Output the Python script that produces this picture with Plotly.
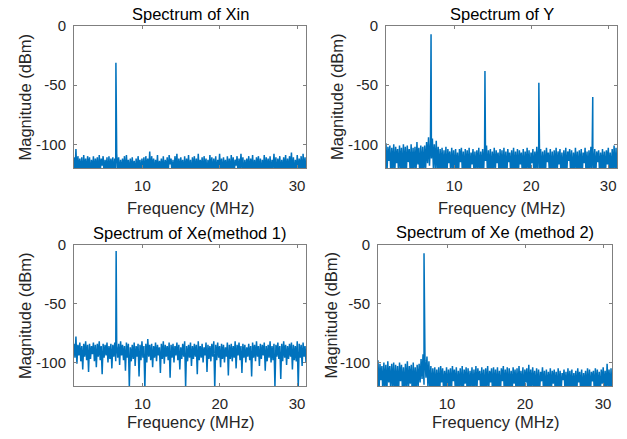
import numpy as np
import plotly.graph_objects as go

# ---------------- data ----------------
F_MIN, F_MAX = 1.15, 31.15          # MHz, visible frequency span
x_ticks = [10, 20, 30]
y_ticks = [-100, -50, 0]
y_tick_text = ["-100", "-50", "0"]

titles = ["Spectrum of Xin", "Spectrum of Y",
          "Spectrum of Xe(method 1)", "Spectrum of Xe (method 2)"]

# tones: frequency (MHz) and level (dBm)
xin_tone_f = [6.57]
xin_tone_db = [-31]
y_tone_f = [7.0, 14.0, 21.0, 28.0]
y_tone_db = [-7, -38, -48, -60]
xe1_tone_f = [6.6]
xe1_tone_db = [-5]
xe2_tone_f = [7.05]
xe2_tone_db = [-7]

# noise floor: local maxima / local minima (dBm), left to right
xin_peaks = [
    -111, -104, -110, -112, -111, -109, -112, -110, -111, -113,
    -110, -112, -111, -109, -112, -110, -113, -111, -110, -112,
    -111, -112, -108, -111, -113, -112, -110, -109, -113, -112,
    -111, -114, -112, -110, -113, -112, -111, -110, -112, -106,
    -110, -112, -113, -109, -114, -112, -110, -113, -111, -109,
    -112, -113, -110, -108, -112, -111, -113, -110, -112, -109,
    -113, -111, -110, -112, -108, -113, -111, -110, -112, -113,
    -109, -111, -112, -110, -113, -108, -112, -111, -113, -110,
    -112, -109, -111, -113, -110, -112, -108, -111, -113, -112,
    -110, -112, -109, -113, -111, -110, -112, -113, -109, -111,
    -112, -110, -113, -108, -111, -112, -110, -113, -111, -109,
    -112, -110, -107, -111, -113, -109, -112, -110, -108, -111]
xin_troughs = [
    -124, -127, -122, -125, -129, -123, -126, -121, -128, -124,
    -125, -122, -127, -124, -118, -126, -123, -128, -125, -122,
    -126, -124, -121, -127, -125, -123, -128, -122, -126, -124,
    -123, -127, -125, -121, -126, -124, -128, -122, -125, -127,
    -122, -126, -124, -128, -121, -125, -127, -123, -126, -117,
    -125, -128, -122, -126, -124, -121, -127, -125, -123, -126,
    -128, -122, -125, -127, -124, -121, -126, -123, -128, -125,
    -122, -126, -124, -127, -121, -125, -128, -123, -126, -124,
    -127, -122, -125, -118, -126, -124, -121, -128, -125, -123,
    -126, -122, -127, -124, -121, -125, -128, -123, -126, -122,
    -125, -127, -121, -124, -128, -122, -126, -125, -123, -127,
    -124, -121, -126, -128, -123, -125, -122, -127, -124, -126]

y_peaks = [
    -99, -102, -101, -103, -100, -102, -104, -101, -103, -100,
    -102, -101, -104, -100, -103, -102, -98, -103, -101, -102,
    -101, -98, -94, -99, -95, -100, -97, -102, -104, -103,
    -105, -102, -104, -106, -103, -105, -104, -107, -104, -103,
    -106, -104, -105, -103, -107, -104, -106, -105, -103, -106,
    -104, -102, -101, -105, -104, -106, -103, -105, -107, -104,
    -105, -103, -106, -104, -107, -105, -103, -106, -104, -105,
    -107, -104, -106, -103, -105, -107, -104, -106, -102, -101,
    -104, -106, -105, -103, -107, -104, -106, -105, -103, -106,
    -104, -107, -105, -103, -106, -104, -105, -107, -103, -106,
    -105, -104, -107, -103, -106, -105, -102, -103, -104, -106,
    -105, -107, -104, -106, -105, -103, -107, -104, -101, -103]
y_troughs = [
    -124, -114, -126, -122, -127, -116, -125, -121, -128, -123,
    -126, -115, -124, -127, -122, -125, -117, -128, -123, -126,
    -121, -116, -118, -112, -120, -122, -125, -127, -123, -126,
    -124, -128, -116, -125, -122, -127, -123, -126, -115, -124,
    -127, -122, -125, -128, -117, -124, -126, -121, -127, -125,
    -123, -114, -126, -124, -128, -122, -125, -116, -127, -123,
    -126, -124, -128, -115, -125, -122, -127, -124, -126, -117,
    -124, -127, -122, -125, -128, -116, -126, -123, -125, -121,
    -127, -124, -126, -115, -123, -128, -125, -122, -126, -117,
    -125, -128, -123, -126, -114, -124, -127, -122, -125, -126,
    -123, -127, -116, -125, -128, -122, -126, -124, -127, -115,
    -126, -123, -125, -128, -117, -124, -127, -122, -126, -124]

xe1_peaks = [
    -84, -78, -85, -83, -86, -84, -82, -85, -84, -86,
    -83, -85, -84, -82, -86, -84, -85, -83, -86, -84,
    -85, -83, -86, -84, -82, -85, -86, -83, -84, -87,
    -85, -83, -86, -84, -85, -82, -86, -84, -80, -85,
    -84, -86, -83, -85, -87, -84, -82, -85, -86, -83,
    -85, -84, -86, -83, -85, -87, -84, -82, -86, -85,
    -83, -86, -84, -85, -82, -86, -84, -87, -83, -85,
    -86, -84, -82, -85, -83, -86, -84, -85, -87, -83,
    -85, -84, -86, -82, -85, -83, -86, -84, -85, -87,
    -84, -86, -83, -85, -82, -86, -84, -85, -83, -86,
    -85, -82, -86, -84, -85, -83, -86, -84, -82, -85,
    -86, -84, -83, -85, -86, -82, -84, -85, -83, -86]
xe1_troughs = [
    -96, -101, -94, -99, -106, -95, -98, -108, -97, -93,
    -99, -104, -95, -98, -110, -96, -94, -100, -97, -105,
    -95, -99, -96, -102, -94, -98, -107, -96, -121, -99,
    -97, -103, -95, -112, -98, -96, -122, -100, -95, -98,
    -104, -96, -99, -94, -109, -97, -101, -95, -98, -113,
    -96, -100, -94, -98, -106, -97, -95, -121, -99, -96,
    -103, -97, -95, -110, -98, -96, -100, -94, -108, -97,
    -99, -95, -122, -98, -96, -104, -97, -100, -95, -111,
    -97, -99, -96, -105, -94, -98, -109, -96, -100, -95,
    -98, -112, -96, -99, -95, -103, -97, -94, -107, -99,
    -96, -100, -98, -121, -95, -97, -114, -99, -96, -102,
    -97, -95, -106, -98, -99, -122, -96, -103, -95, -100]

xe2_peaks = [
    -98, -101, -103, -100, -102, -99, -103, -101, -100, -102,
    -103, -100, -102, -104, -101, -99, -103, -102, -100, -104,
    -102, -101, -97, -93, -98, -95, -99, -103, -105, -104,
    -106, -104, -103, -105, -107, -104, -106, -105, -103, -106,
    -104, -107, -105, -103, -106, -104, -105, -107, -104, -106,
    -103, -105, -107, -104, -106, -105, -103, -107, -105, -104,
    -106, -104, -107, -105, -103, -106, -104, -105, -107, -104,
    -106, -105, -103, -107, -104, -106, -105, -102, -106, -104,
    -107, -105, -106, -108, -104, -107, -106, -108, -105, -107,
    -106, -108, -105, -107, -109, -106, -108, -105, -107, -106,
    -109, -107, -105, -108, -106, -109, -107, -105, -106, -108,
    -107, -105, -106, -108, -106, -104, -107, -101, -106, -105]
xe2_troughs = [
    -125, -115, -127, -122, -126, -117, -124, -121, -128, -123,
    -126, -116, -124, -127, -122, -125, -118, -128, -123, -126,
    -121, -117, -114, -119, -113, -121, -125, -127, -123, -126,
    -124, -128, -117, -125, -122, -127, -123, -126, -116, -124,
    -127, -122, -125, -128, -118, -124, -126, -121, -127, -125,
    -123, -115, -126, -124, -128, -122, -125, -117, -127, -123,
    -126, -124, -128, -116, -125, -122, -127, -124, -126, -118,
    -124, -127, -122, -125, -128, -117, -126, -123, -125, -121,
    -127, -124, -126, -116, -123, -128, -125, -122, -126, -118,
    -125, -128, -123, -126, -115, -124, -127, -122, -125, -126,
    -123, -127, -117, -125, -128, -122, -126, -124, -127, -116,
    -126, -123, -125, -128, -118, -124, -127, -122, -126, -124]


def spectrum(peaks, troughs, tone_f, tone_db):
    mags = []
    for p, t in zip(peaks, troughs):
        mags += [p, t]
    freq = list(np.linspace(F_MIN, F_MAX, len(mags)))
    for f, db in sorted(zip(tone_f, tone_db)):
        k = int(np.searchsorted(freq, f))
        freq.insert(k, f)
        mags.insert(k, db)
    return freq, mags


panels = [
    (xin_peaks, xin_troughs, xin_tone_f, xin_tone_db),
    (y_peaks, y_troughs, y_tone_f, y_tone_db),
    (xe1_peaks, xe1_troughs, xe1_tone_f, xe1_tone_db),
    (xe2_peaks, xe2_troughs, xe2_tone_f, xe2_tone_db),
]

# ---------------- layout (pixel geometry of the 627x439 figure) ----------------
W, H = 627, 439
# left, right, top, bottom in pixels
boxes = [(74, 306, 26, 168), (386, 617, 26, 168),
         (74, 306, 245, 386), (378, 612, 245, 386)]
title_y = [13.5, 13.5, 233, 232]
xlabel_y = [207.5, 207.5, 422, 422]
ylabel_x = [24.5, 337, 24.5, 330]

LINE = "#0072BD"
FONT = "Liberation Sans, Arial, sans-serif"
TXT = "#262626"
AX = "#7f7f7f"

fig = go.Figure()
annotations = []
for i, (pk, tr, tf, tdb) in enumerate(panels):
    n = i + 1
    sfx = "" if n == 1 else str(n)
    freq, mags = spectrum(pk, tr, tf, tdb)
    fig.add_trace(go.Scatter(x=freq, y=mags, mode="lines",
                             line=dict(color=LINE, width=1.5),
                             xaxis="x" + sfx, yaxis="y" + sfx,
                             showlegend=False, hoverinfo="skip"))
    l, r, t, b = boxes[i]
    common = dict(showline=True, linecolor=AX, linewidth=1, mirror="ticks",
                  ticks="inside", ticklen=3, tickcolor=AX, showgrid=False,
                  zeroline=False, automargin=False,
                  tickfont=dict(family=FONT, size=15, color=TXT))
    fig.layout["xaxis" + sfx] = dict(
        domain=[l / W, r / W], anchor="y" + sfx, range=[F_MIN, F_MAX],
        tickvals=x_ticks, ticklabelstandoff=4, **common)
    fig.layout["yaxis" + sfx] = dict(
        domain=[1 - b / H, 1 - t / H], anchor="x" + sfx, range=[-120, 0],
        tickvals=y_ticks, ticktext=y_tick_text, ticklabelstandoff=4, **common)
    cx = (l + r) / 2 / W
    annotations.append(dict(text=titles[i], x=cx, y=1 - title_y[i] / H,
                            xref="paper", yref="paper", showarrow=False,
                            xanchor="center", yanchor="middle",
                            font=dict(family=FONT, size=16.5, color="#000")))
    annotations.append(dict(text="Frequency (MHz)", x=cx, y=1 - xlabel_y[i] / H,
                            xref="paper", yref="paper", showarrow=False,
                            xanchor="center", yanchor="middle",
                            font=dict(family=FONT, size=16.5, color=TXT)))
    annotations.append(dict(text="Magnitude (dBm)", x=ylabel_x[i] / W,
                            y=1 - (t + b) / 2 / H, textangle=-90,
                            xref="paper", yref="paper", showarrow=False,
                            xanchor="center", yanchor="middle",
                            font=dict(family=FONT, size=16.5, color=TXT)))

fig.update_layout(width=W, height=H, margin=dict(l=0, r=0, t=0, b=0),
                  paper_bgcolor="white", plot_bgcolor="white",
                  annotations=annotations)
fig.write_html("out.html", config={"displayModeBar": False},
               post_script="document.body.style.margin='0px';"
                           "document.body.style.overflow='hidden';")
